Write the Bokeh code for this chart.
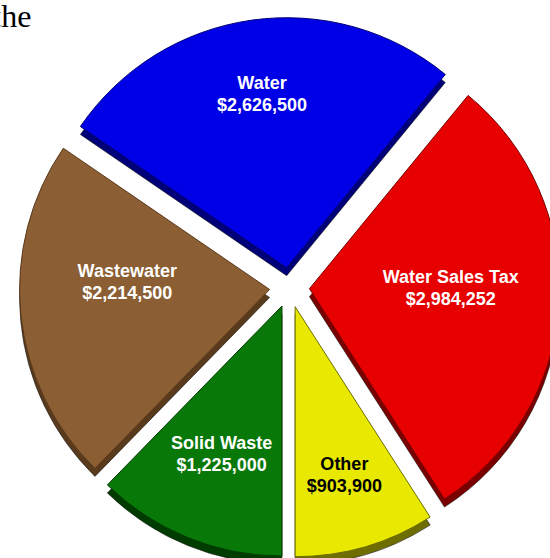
import numpy as np
from bokeh.plotting import figure
from bokeh.models import Range1d, ColumnDataSource
from bokeh.core.properties import value
from bokeh.embed import file_html
from bokeh.resources import INLINE

# ---- data ----
categories = ["Other", "Water Sales Tax", "Water", "Wastewater", "Solid Waste"]
values = [903900, 2984252, 2626500, 2214500, 1225000]

# ---- styles ----
colors = ["#E8E800", "#E60000", "#0000E6", "#8B5E34", "#087808"]
side_colors = ["#6E6E00", "#7A0000", "#000078", "#5A3A1C", "#003C00"]
text_colors = ["#000000", "#FFFFFF", "#FFFFFF", "#FFFFFF", "#FFFFFF"]
label_frac = [0.70, 0.565, 0.70, 0.57, 0.64]
label_dang_deg = [0.0, 3.8, 0.0, -8.6, 0.0]

W, H = 550, 558
R = 250.0
EXPLODE = 20.0
DEPTH = 8.0
CX, CY = 289.0, H - 287.0
START = -np.pi / 2

vals = np.array(values, dtype=float)
ang = vals / vals.sum() * 2 * np.pi
ends = START + np.cumsum(ang)
starts = ends - ang
mids = (starts + ends) / 2
xs = CX + EXPLODE * np.cos(mids)
ys = CY + EXPLODE * np.sin(mids)

lab_r = np.array(label_frac) * R
lab_a = mids + np.radians(label_dang_deg)
lx = xs + lab_r * np.cos(lab_a)
ly = ys + lab_r * np.sin(lab_a)

p = figure(width=W, height=H, output_backend="svg", toolbar_location=None,
           x_range=Range1d(0, W), y_range=Range1d(0, H), min_border=0)
p.axis.visible = False
p.grid.visible = False
p.outline_line_color = None
p.background_fill_color = "white"
p.border_fill_color = "white"

src = ColumnDataSource(dict(x=xs, y=ys, yd=ys - DEPTH, s=starts, e=ends,
                            c=colors, sc=side_colors,
                            lx=lx, ly1=ly + 11, ly2=ly - 11,
                            name=categories,
                            val=["${:,}".format(v) for v in values],
                            tc=text_colors))

# side (extrusion)
p.wedge(x="x", y="yd", radius=R, start_angle="s", end_angle="e", source=src,
        fill_color="sc", line_color="#1a1a1a", line_width=0.6)
# top face
p.wedge(x="x", y="y", radius=R, start_angle="s", end_angle="e", source=src,
        fill_color="c", line_color="sc", line_width=1)

for col, txt in (("ly1", "name"), ("ly2", "val")):
    p.text(x="lx", y=col, text=txt, source=src,
           text_color="tc", text_font=value("Liberation Sans"),
           text_font_style="bold", text_font_size="18px",
           text_align="center", text_baseline="middle")

p.text(x=[31], y=[H - 15], text=["the"], text_color="black",
       text_font=value("Liberation Serif"), text_font_size="32px",
       text_align="right", text_baseline="alphabetic")

open("out.html", "w").write(file_html(p, INLINE))
